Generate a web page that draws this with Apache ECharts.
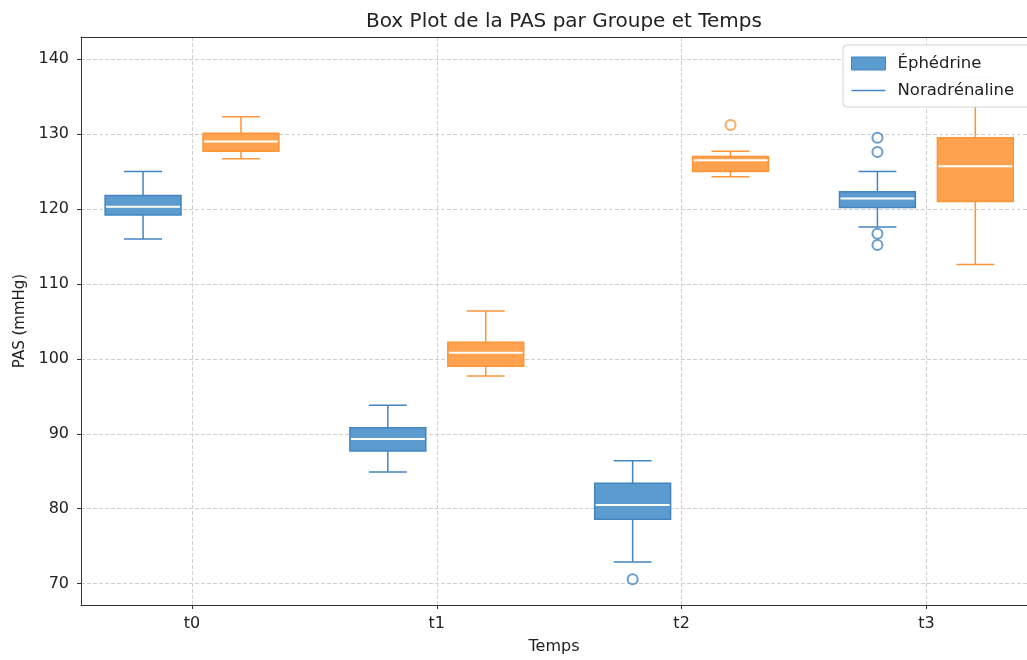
<!DOCTYPE html>
<html>
<head>
<meta charset="utf-8">
<script src="https://cdn.jsdelivr.net/npm/echarts@6.0.0/dist/echarts.min.js"></script>
<style>html,body{margin:0;padding:0;background:#fff}#c{width:1027px;height:660px}</style>
</head>
<body>
<div id="c"></div>
<script>
// ---- data ----
const categories = ['t0', 't1', 't2', 't3'];
const xTicks = [0, 1, 2, 3];
const yTicks = [70, 80, 90, 100, 110, 120, 130, 140];
// [min, Q1, median, Q3, max]
const ephedrine = [
  [116.0, 119.2, 120.3, 121.8, 125.0],
  [84.9, 87.7, 89.3, 90.8, 93.8],
  [72.9, 78.6, 80.5, 83.4, 86.4],
  [117.6, 120.2, 121.4, 122.3, 125.0]
];
const noradrenaline = [
  [126.7, 127.7, 129.0, 130.1, 132.3],
  [97.7, 99.0, 100.8, 102.2, 106.4],
  [124.3, 125.0, 126.5, 127.0, 127.7],
  [112.6, 121.0, 125.7, 129.5, 137.5]
];
// outliers: [category index, value]
const ephedrineOutliers = [[2, 70.6], [3, 129.5], [3, 127.6], [3, 116.7], [3, 115.2]];
const noradrenalineOutliers = [[2, 131.2]];

// ---- styling ----
const OFF = 0.2, BOX_W = 0.31;
const X_MIN = -0.4535, X_MAX = 3.411;
const BLUE_FILL = '#5b9bd0', BLUE_EDGE = '#4385c0';
const ORANGE_FILL = '#ffa24f', ORANGE_EDGE = '#fb9538';
const FONT = 'DejaVu Sans';

function makeRender(off, fill, edge) {
  return function (params, api) {
    const x = api.value(0) + off;
    const pMin = api.coord([x, api.value(1)]);
    const pQ1 = api.coord([x, api.value(2)]);
    const pMed = api.coord([x, api.value(3)]);
    const pQ3 = api.coord([x, api.value(4)]);
    const pMax = api.coord([x, api.value(5)]);
    const bw = api.size([BOX_W, 0])[0];
    const cx = pMin[0];
    const cw = bw / 4;
    const ls = { stroke: edge, lineWidth: 1.5 };
    return {
      type: 'group',
      children: [
        { type: 'line', shape: { x1: cx, y1: pQ1[1], x2: cx, y2: pMin[1] }, style: ls },
        { type: 'line', shape: { x1: cx, y1: pQ3[1], x2: cx, y2: pMax[1] }, style: ls },
        { type: 'line', shape: { x1: cx - cw, y1: pMin[1], x2: cx + cw, y2: pMin[1] }, style: ls },
        { type: 'line', shape: { x1: cx - cw, y1: pMax[1], x2: cx + cw, y2: pMax[1] }, style: ls },
        { type: 'rect', shape: { x: cx - bw / 2, y: pQ3[1], width: bw, height: pQ1[1] - pQ3[1] },
          style: { fill: fill, stroke: edge, lineWidth: 1.5 } },
        { type: 'line', shape: { x1: cx - bw / 2 + 1, y1: pMed[1], x2: cx + bw / 2 - 1, y2: pMed[1] },
          style: { stroke: '#ffffff', lineWidth: 2 } }
      ]
    };
  };
}

const ephData = ephedrine.map((d, i) => [i].concat(d));
const norData = noradrenaline.map((d, i) => [i].concat(d));

const gridLine = { show: true, lineStyle: { color: '#d0d0d0', type: [4, 2], width: 1 } };

const chart = echarts.init(document.getElementById('c'), null, { renderer: 'canvas' });
chart.setOption({
  animation: false,
  backgroundColor: '#ffffff',
  textStyle: { fontFamily: FONT },
  title: {
    text: 'Box Plot de la PAS par Groupe et Temps',
    left: 559, top: 7, textAlign: 'center',
    textStyle: { fontFamily: FONT, fontSize: 20, fontWeight: 'normal', color: '#222' }
  },
  legend: {
    orient: 'vertical',
    left: 843, top: 45,
    padding: [10, 40, 8, 8],
    itemGap: 10,
    itemWidth: 34, itemHeight: 13,
    backgroundColor: 'rgba(255,255,255,0.95)',
    borderColor: '#d5d5d5', borderWidth: 1, borderRadius: 4,
    textStyle: { fontFamily: FONT, fontSize: 16.5, color: '#222', padding: [0, 0, 0, 7] },
    data: [
      { name: 'Éphédrine', icon: 'rect', itemStyle: { color: BLUE_FILL, borderColor: BLUE_EDGE, borderWidth: 1 } },
      { name: 'Noradrénaline', icon: 'path://M0,0 M34,13 M0,5.8 L34,5.8 L34,7.2 L0,7.2 Z',
        itemStyle: { color: BLUE_EDGE, borderWidth: 0 } }
    ]
  },
  grid: { left: 81, right: 0, top: 37, bottom: 53, show: false },
  xAxis: [{
    type: 'value', min: X_MIN, max: X_MAX,
    name: 'Temps', nameLocation: 'middle', nameGap: 34,
    nameTextStyle: { fontFamily: FONT, fontSize: 16, color: '#222' },
    axisLine: { show: true, onZero: false, lineStyle: { color: '#333', width: 1 } },
    axisTick: { show: true, length: 4, customValues: xTicks, lineStyle: { color: '#333' } },
    axisLabel: { customValues: xTicks, formatter: v => categories[Math.round(v)], margin: 11,
      fontFamily: FONT, fontSize: 16, color: '#222' },
    splitLine: gridLine
  }, {
    type: 'value', position: 'top', min: X_MIN, max: X_MAX,
    axisLine: { show: true, onZero: false, lineStyle: { color: '#333', width: 1 } },
    axisTick: { show: false }, axisLabel: { show: false }, splitLine: { show: false }
  }],
  yAxis: {
    type: 'value', min: 67.15, max: 142.95,
    name: 'PAS (mmHg)', nameLocation: 'middle', nameGap: 52, nameRotate: 90,
    nameTextStyle: { fontFamily: FONT, fontSize: 15, color: '#222', padding: [0, 0, 0, 0] },
    axisLine: { show: true, onZero: false, lineStyle: { color: '#333', width: 1 } },
    axisTick: { show: true, length: 4, customValues: yTicks, lineStyle: { color: '#333' } },
    axisLabel: { customValues: yTicks, margin: 12, fontFamily: FONT, fontSize: 16, color: '#222' },
    splitLine: gridLine
  },
  series: [
    {
      name: 'Éphédrine', type: 'custom', data: ephData,
      encode: { x: 0, y: [1, 2, 3, 4, 5] },
      itemStyle: { color: BLUE_FILL },
      renderItem: makeRender(-OFF, BLUE_FILL, BLUE_EDGE), z: 3
    },
    {
      name: 'Noradrénaline', type: 'custom', data: norData,
      encode: { x: 0, y: [1, 2, 3, 4, 5] },
      itemStyle: { color: ORANGE_FILL },
      renderItem: makeRender(OFF, ORANGE_FILL, ORANGE_EDGE), z: 3
    },
    {
      name: 'Éphédrine', type: 'scatter', symbol: 'emptyCircle', symbolSize: 10,
      data: ephedrineOutliers.map(d => [d[0] - OFF, d[1]]),
      itemStyle: { color: BLUE_EDGE, borderWidth: 1.6 }, z: 4
    },
    {
      name: 'Noradrénaline', type: 'scatter', symbol: 'emptyCircle', symbolSize: 10,
      data: noradrenalineOutliers.map(d => [d[0] + OFF, d[1]]),
      itemStyle: { color: ORANGE_EDGE, borderWidth: 1.6 }, z: 4
    }
  ]
});
</script>
</body>
</html>
